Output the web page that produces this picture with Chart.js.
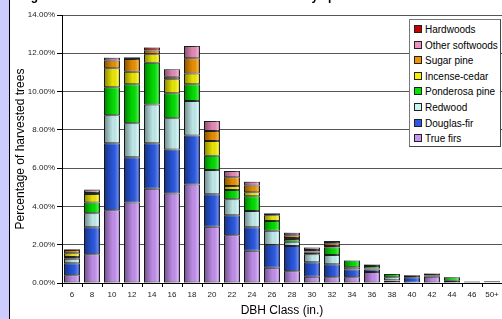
<!DOCTYPE html>
<html lang="en">
<head>
  <meta charset="UTF-8" />
  <title>Harvested trees by DBH class and species</title>
  <script src="https://cdn.jsdelivr.net/npm/chart.js"></script>
  <style>
    body { margin: 0; background: #fff; font-family: "Liberation Sans", Arial, sans-serif; }
    #wrap { position: relative; width: 502px; height: 319px; overflow: hidden; }
    #strip { position: absolute; left: 0; top: 0; width: 9px; height: 319px; background: #ccccff; border-right: 1px solid #000; z-index: 2; }
    #caption { position: absolute; left: 20px; top: -11px; font-weight: bold; font-size: 12px; line-height: 14px; white-space: nowrap; z-index: 1; }
    #chart { position: absolute; left: 0; top: 0; }
    #legend { position: absolute; left: 409px; top: 19px; width: 90px; height: 126px; background: #fff;
              border: 1px solid #777; border-right-color: #444; border-bottom-color: #444; z-index: 3; }
    .item { position: absolute; left: 4px; height: 14px; font-size: 10px; line-height: 14px; color: #000; white-space: nowrap; }
    .item span.sw { display: inline-block; width: 6px; height: 6px; border: 1px solid #222; margin-right: 3px; vertical-align: 0px; }
  </style>
</head>
<body>
  <div id="wrap">
    <div id="strip"></div>
    <div id="caption">Figure 5. Diameter distribution of harvested trees by species</div>
    <canvas id="chart" width="502" height="319"></canvas>
    <div id="legend"></div>
  </div>

  <script>
    const classes = ['6','8','10','12','14','16','18','20','22','24','26','28','30','32','34','36','38','40','42','44','46','50+'];

    // percent of harvested trees, stacked bottom to top
    const trueFirs      = [0.40,1.50,3.80,4.20,4.93,4.68,5.15,2.94,2.49,1.69,0.80,0.61,0.33,0.30,0.30,0.57,0.12,0.02,0.33,0.03,0.06,0.04];
    const douglasFir    = [0.63,1.41,3.50,2.37,2.37,2.30,2.55,1.69,1.05,1.22,1.20,1.32,0.75,0.68,0.41,0.14,0.03,0.28,0,0,0.03,0];
    const redwood       = [0.24,0.73,1.46,1.77,2.03,1.62,1.81,1.27,0.83,0.85,0.73,0.23,0.42,0.48,0.11,0.05,0.15,0,0.05,0.09,0,0.05];
    const ponderosaPine = [0.09,0.56,1.46,2.04,2.18,1.31,0.87,0.75,0.49,0.77,0.51,0.14,0.10,0.39,0.35,0.13,0.17,0,0.04,0.18,0,0];
    const incenseCedar  = [0.19,0.45,1.00,0.66,0.44,0.73,0.57,0.77,0.21,0.21,0.30,0.05,0.05,0.08,0,0,0,0,0,0,0,0];
    const sugarPine     = [0.17,0.05,0.40,0.66,0.19,0.14,0.79,0.52,0.45,0.35,0.06,0.14,0.07,0.14,0,0.07,0,0.10,0.07,0,0,0];
    const otherSoftwoods= [0.04,0.15,0.15,0.05,0,0.38,0.64,0.52,0.33,0.20,0.04,0.14,0.13,0.07,0,0,0,0,0,0,0,0];
    const hardwoods     = [0,0.03,0,0.04,0.16,0,0,0,0,0,0,0,0,0.05,0,0,0,0,0,0,0,0];

    const yTicks = [0, 2, 4, 6, 8, 10, 12, 14];

    const series = [
      { label: 'True firs',       data: trueFirs,       color: '#c994f5' },
      { label: 'Douglas-fir',     data: douglasFir,     color: '#2a5ae8' },
      { label: 'Redwood',         data: redwood,        color: '#c8f4f4' },
      { label: 'Ponderosa pine',  data: ponderosaPine,  color: '#00e600' },
      { label: 'Incense-cedar',   data: incenseCedar,   color: '#f5f000' },
      { label: 'Sugar pine',      data: sugarPine,      color: '#f29400' },
      { label: 'Other softwoods', data: otherSoftwoods, color: '#ee90c0' },
      { label: 'Hardwoods',       data: hardwoods,      color: '#c40000' }
    ];

    // shading across each bar segment, like the old 3D-ish office charts
    const shade = {
      id: 'shade',
      afterDatasetsDraw(chart) {
        const ctx = chart.ctx;
        chart.data.datasets.forEach((ds, i) => {
          chart.getDatasetMeta(i).data.forEach(el => {
            const { x, y, base, width } = el.getProps(['x', 'y', 'base', 'width'], true);
            if (Math.abs(base - y) < 1) return;
            const l = x - width / 2;
            const g = ctx.createLinearGradient(l, 0, l + width, 0);
            g.addColorStop(0, 'rgba(0,0,0,0.45)');
            g.addColorStop(0.55, 'rgba(0,0,0,0.05)');
            g.addColorStop(0.85, 'rgba(255,255,255,0.25)');
            g.addColorStop(1, 'rgba(0,0,0,0.2)');
            ctx.save();
            ctx.fillStyle = g;
            ctx.fillRect(l, Math.min(y, base), width, Math.abs(base - y));
            ctx.restore();
          });
        });
      }
    };

    new Chart(document.getElementById('chart'), {
      type: 'bar',
      data: {
        labels: classes,
        datasets: series.map(s => ({
          label: s.label,
          data: s.data,
          backgroundColor: s.color,
          borderColor: 'rgba(0,0,0,0.85)',
          borderWidth: 1,
          borderSkipped: false,
          barPercentage: 0.8,
          categoryPercentage: 1
        }))
      },
      options: {
        responsive: false,
        animation: false,
        devicePixelRatio: 1,
        layout: { padding: { top: 15, left: 0, right: 0, bottom: 0 } },
        plugins: { legend: { display: false }, tooltip: { enabled: false } },
        scales: {
          x: {
            stacked: true,
            grid: { offset: true, drawOnChartArea: false, tickLength: 4, color: '#000' },
            border: { color: '#000' },
            ticks: { font: { size: 8, family: 'Liberation Sans' }, color: '#222', padding: 3, autoSkip: false, maxRotation: 0 },
            title: { display: true, text: 'DBH Class (in.)', color: '#000', font: { size: 12, family: 'Liberation Sans' }, padding: { top: 1, bottom: 1 } },
            afterFit: s => { s.height = 36; }
          },
          y: {
            stacked: true,
            min: yTicks[0],
            max: yTicks[yTicks.length - 1],
            afterBuildTicks: s => { s.ticks = yTicks.map(v => ({ value: v })); },
            grid: { color: '#555', tickColor: '#000', tickLength: 5 },
            border: { color: '#000' },
            ticks: { font: { size: 8, family: 'Liberation Sans' }, color: '#222', padding: 2, callback: v => v.toFixed(2) + '%' },
            title: { display: true, text: 'Percentage of harvested trees', color: '#000', font: { size: 12, family: 'Liberation Sans' }, padding: { top: 13, bottom: 0 } },
            afterFit: s => { s.width = 62; }
          }
        }
      },
      plugins: [shade]
    });

    // legend box, top item is the top of the stack
    const legend = document.getElementById('legend');
    series.slice().reverse().forEach((s, i) => {
      const d = document.createElement('div');
      d.className = 'item';
      d.style.top = (3 + i * 15.6) + 'px';
      d.innerHTML = `<span class="sw" style="background:${s.color}"></span>${s.label}`;
      legend.appendChild(d);
    });
  </script>
</body>
</html>
